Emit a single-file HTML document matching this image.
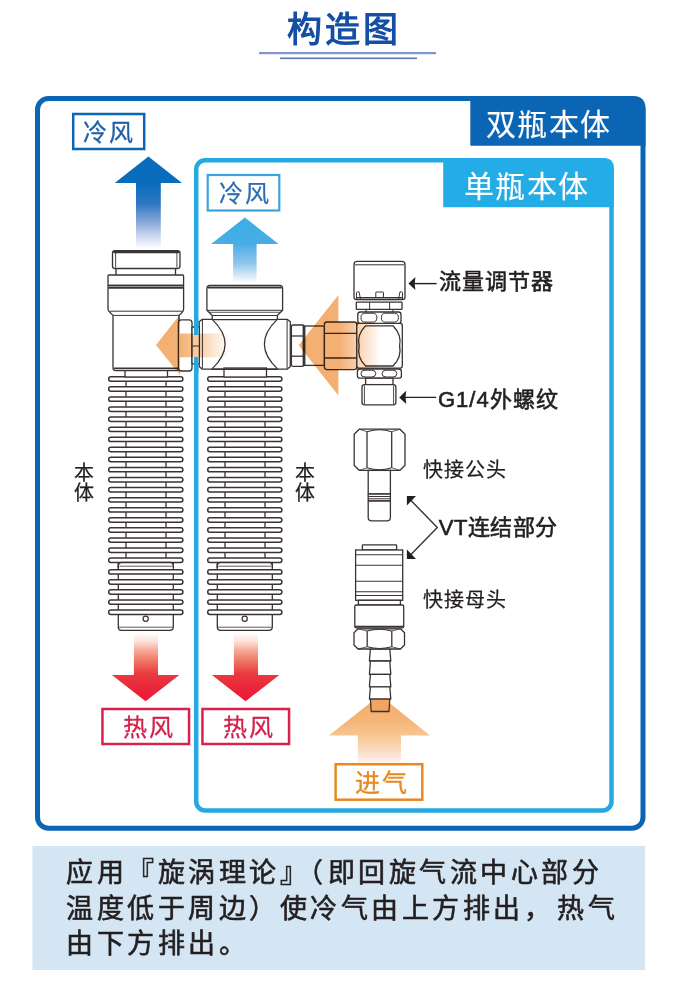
<!DOCTYPE html>
<html lang="zh-CN"><head><meta charset="utf-8"><title>构造图</title>
<style>html,body{margin:0;padding:0;background:#fff;} svg{display:block;font-family:"Liberation Sans",sans-serif;}</style>
</head><body>
<svg width="682" height="1000" viewBox="0 0 682 1000">
<defs>
<linearGradient id="gBlue" gradientUnits="userSpaceOnUse" x1="0" y1="157" x2="0" y2="249"><stop offset="0" stop-color="#0a6cbc"/><stop offset="0.283" stop-color="#0a6cbc"/><stop offset="0.5" stop-color="#2c76c2"/><stop offset="0.7" stop-color="#84a5d8"/><stop offset="0.87" stop-color="#d0dbf0"/><stop offset="1" stop-color="#ffffff"/></linearGradient>
<linearGradient id="gLBlue" gradientUnits="userSpaceOnUse" x1="0" y1="217.5" x2="0" y2="283"><stop offset="0" stop-color="#3aaee6"/><stop offset="0.4" stop-color="#48ade4"/><stop offset="0.7" stop-color="#8fc6ec"/><stop offset="1" stop-color="#ffffff"/></linearGradient>
<linearGradient id="gRed" gradientUnits="userSpaceOnUse" x1="0" y1="633" x2="0" y2="701"><stop offset="0" stop-color="#ffffff"/><stop offset="0.12" stop-color="#fde2da"/><stop offset="0.25" stop-color="#f8ac9c"/><stop offset="0.4" stop-color="#f07868"/><stop offset="0.6" stop-color="#e93a40"/><stop offset="1" stop-color="#ec1434"/></linearGradient>
<linearGradient id="gOrgL1" gradientUnits="userSpaceOnUse" x1="156" y1="0" x2="229.5" y2="0"><stop offset="0" stop-color="#f4b073"/><stop offset="0.33" stop-color="#f4b073"/><stop offset="1" stop-color="#f4b073" stop-opacity="0"/></linearGradient>
<linearGradient id="gOrgL2" gradientUnits="userSpaceOnUse" x1="298.7" y1="0" x2="381" y2="0"><stop offset="0" stop-color="#f4b073"/><stop offset="0.5" stop-color="#f4b073"/><stop offset="1" stop-color="#f4b073" stop-opacity="0"/></linearGradient>
<linearGradient id="gOrgUp" gradientUnits="userSpaceOnUse" x1="0" y1="695" x2="0" y2="763"><stop offset="0" stop-color="#f5aa62"/><stop offset="0.4" stop-color="#f5b67a"/><stop offset="0.62" stop-color="#f7c896"/><stop offset="0.85" stop-color="#fcdfcc"/><stop offset="1" stop-color="#fff6ee"/></linearGradient>
</defs>
<rect width="682" height="1000" fill="#fff"/>
<text x="287" y="41.7" font-size="35" font-weight="bold" letter-spacing="3" fill="#144ea5">构造图</text>
<rect x="259" y="52" width="177" height="2.2" fill="#7f96cf"/>
<rect x="280" y="57.5" width="137" height="1.6" fill="#5b7bb3"/>
<rect x="37.5" y="98.5" width="605.5" height="729.7" rx="11" fill="none" stroke="#0a66b4" stroke-width="5"/>
<path d="M470.3,96 H633 Q645.5,96 645.5,108.5 V145.7 H470.3 Z" fill="#0a66b4"/>
<text stroke="#fff" stroke-width="0.15" x="486" y="135" font-size="30" letter-spacing="1.3" fill="#fff">双瓶本体</text>
<rect x="196.2" y="160.3" width="415.3" height="650.3" rx="9" fill="none" stroke="#26a9e0" stroke-width="4.5"/>
<path d="M443.2,158 H604 Q613.8,158 613.8,168 V207.2 H443.2 Z" fill="#23ace6"/>
<text stroke="#fff" stroke-width="0.15" x="464" y="196.5" font-size="30" letter-spacing="1.3" fill="#fff">单瓶本体</text>
<rect x="73.2" y="114" width="71" height="35" fill="#fff" stroke="#0a66b4" stroke-width="2.5"/>
<text stroke="#1f5fa8" stroke-width="0.3" x="82.8" y="141" font-size="24" letter-spacing="2" fill="#1f5fa8">冷风</text>
<rect x="207.7" y="175" width="71.6" height="35.5" fill="#fff" stroke="#3aa4de" stroke-width="2.2"/>
<text stroke="#2b6cb4" stroke-width="0.25" x="218.5" y="202" font-size="24" letter-spacing="2" fill="#2b6cb4">冷风</text>
<path d="M148.4,156.6 L182,183 H160.8 V248 H136 V183 H114.7 Z" fill="url(#gBlue)"/>
<path d="M244.9,217.5 L278.6,243.9 H256.6 V283 H233.1 V243.9 H211.1 Z" fill="url(#gLBlue)"/>
<rect x="126" y="370" width="40" height="192" fill="#fff" stroke="#3a3333" stroke-width="1.3"/>
<path d="M118.3,562 H173.3 V627 Q173.3,630.4 170,630.4 H121.6 Q118.3,630.4 118.3,627 Z" fill="#fff" stroke="#3a3333" stroke-width="1.3"/>
<line x1="119" y1="627.2" x2="172.6" y2="627.2" stroke="#3a3333" stroke-width="0.8"/>
<circle cx="145.7" cy="618.7" r="2.6" fill="#fff" stroke="#3a3333" stroke-width="1.2"/>
<rect x="108.7" y="376.80" width="74.20" height="4.4" rx="2.2" fill="#fff" stroke="#3a3333" stroke-width="1.5"/>
<rect x="108.7" y="386.87" width="74.20" height="4.4" rx="2.2" fill="#fff" stroke="#3a3333" stroke-width="1.5"/>
<rect x="108.7" y="396.94" width="74.20" height="4.4" rx="2.2" fill="#fff" stroke="#3a3333" stroke-width="1.5"/>
<rect x="108.7" y="407.01" width="74.20" height="4.4" rx="2.2" fill="#fff" stroke="#3a3333" stroke-width="1.5"/>
<rect x="108.7" y="417.08" width="74.20" height="4.4" rx="2.2" fill="#fff" stroke="#3a3333" stroke-width="1.5"/>
<rect x="108.7" y="427.15" width="74.20" height="4.4" rx="2.2" fill="#fff" stroke="#3a3333" stroke-width="1.5"/>
<rect x="108.7" y="437.22" width="74.20" height="4.4" rx="2.2" fill="#fff" stroke="#3a3333" stroke-width="1.5"/>
<rect x="108.7" y="447.29" width="74.20" height="4.4" rx="2.2" fill="#fff" stroke="#3a3333" stroke-width="1.5"/>
<rect x="108.7" y="457.36" width="74.20" height="4.4" rx="2.2" fill="#fff" stroke="#3a3333" stroke-width="1.5"/>
<rect x="108.7" y="467.43" width="74.20" height="4.4" rx="2.2" fill="#fff" stroke="#3a3333" stroke-width="1.5"/>
<rect x="108.7" y="477.50" width="74.20" height="4.4" rx="2.2" fill="#fff" stroke="#3a3333" stroke-width="1.5"/>
<rect x="108.7" y="487.57" width="74.20" height="4.4" rx="2.2" fill="#fff" stroke="#3a3333" stroke-width="1.5"/>
<rect x="108.7" y="497.64" width="74.20" height="4.4" rx="2.2" fill="#fff" stroke="#3a3333" stroke-width="1.5"/>
<rect x="108.7" y="507.71" width="74.20" height="4.4" rx="2.2" fill="#fff" stroke="#3a3333" stroke-width="1.5"/>
<rect x="108.7" y="517.78" width="74.20" height="4.4" rx="2.2" fill="#fff" stroke="#3a3333" stroke-width="1.5"/>
<rect x="108.7" y="527.85" width="74.20" height="4.4" rx="2.2" fill="#fff" stroke="#3a3333" stroke-width="1.5"/>
<rect x="108.7" y="537.92" width="74.20" height="4.4" rx="2.2" fill="#fff" stroke="#3a3333" stroke-width="1.5"/>
<rect x="108.7" y="547.99" width="74.20" height="4.4" rx="2.2" fill="#fff" stroke="#3a3333" stroke-width="1.5"/>
<rect x="108.7" y="558.06" width="74.20" height="4.4" rx="2.2" fill="#fff" stroke="#3a3333" stroke-width="1.5"/>
<rect x="108.7" y="569.70" width="74.20" height="4.4" rx="2.2" fill="#fff" stroke="#3a3333" stroke-width="1.5"/>
<rect x="108.7" y="579.77" width="74.20" height="4.4" rx="2.2" fill="#fff" stroke="#3a3333" stroke-width="1.5"/>
<rect x="108.7" y="589.84" width="74.20" height="4.4" rx="2.2" fill="#fff" stroke="#3a3333" stroke-width="1.5"/>
<rect x="108.7" y="599.91" width="74.20" height="4.4" rx="2.2" fill="#fff" stroke="#3a3333" stroke-width="1.5"/>
<rect x="108.7" y="609.98" width="74.20" height="4.4" rx="2.2" fill="#fff" stroke="#3a3333" stroke-width="1.5"/>
<path d="M118.3,568.5 V565.6 Q118.3,562.6 121.3,562.6 H170.3 Q173.3,562.6 173.3,565.6 V568.5" fill="#fff" stroke="#3a3333" stroke-width="1.5"/>
<line x1="119.5" y1="566.2" x2="172.1" y2="566.2" stroke="#3a3333" stroke-width="0.8"/>
<rect x="225" y="370" width="40" height="192" fill="#fff" stroke="#3a3333" stroke-width="1.3"/>
<path d="M217.3,562 H272.3 V627 Q272.3,630.4 269,630.4 H220.6 Q217.3,630.4 217.3,627 Z" fill="#fff" stroke="#3a3333" stroke-width="1.3"/>
<line x1="218" y1="627.2" x2="271.6" y2="627.2" stroke="#3a3333" stroke-width="0.8"/>
<circle cx="244.7" cy="618.7" r="2.6" fill="#fff" stroke="#3a3333" stroke-width="1.2"/>
<rect x="207.7" y="376.80" width="74.20" height="4.4" rx="2.2" fill="#fff" stroke="#3a3333" stroke-width="1.5"/>
<rect x="207.7" y="386.87" width="74.20" height="4.4" rx="2.2" fill="#fff" stroke="#3a3333" stroke-width="1.5"/>
<rect x="207.7" y="396.94" width="74.20" height="4.4" rx="2.2" fill="#fff" stroke="#3a3333" stroke-width="1.5"/>
<rect x="207.7" y="407.01" width="74.20" height="4.4" rx="2.2" fill="#fff" stroke="#3a3333" stroke-width="1.5"/>
<rect x="207.7" y="417.08" width="74.20" height="4.4" rx="2.2" fill="#fff" stroke="#3a3333" stroke-width="1.5"/>
<rect x="207.7" y="427.15" width="74.20" height="4.4" rx="2.2" fill="#fff" stroke="#3a3333" stroke-width="1.5"/>
<rect x="207.7" y="437.22" width="74.20" height="4.4" rx="2.2" fill="#fff" stroke="#3a3333" stroke-width="1.5"/>
<rect x="207.7" y="447.29" width="74.20" height="4.4" rx="2.2" fill="#fff" stroke="#3a3333" stroke-width="1.5"/>
<rect x="207.7" y="457.36" width="74.20" height="4.4" rx="2.2" fill="#fff" stroke="#3a3333" stroke-width="1.5"/>
<rect x="207.7" y="467.43" width="74.20" height="4.4" rx="2.2" fill="#fff" stroke="#3a3333" stroke-width="1.5"/>
<rect x="207.7" y="477.50" width="74.20" height="4.4" rx="2.2" fill="#fff" stroke="#3a3333" stroke-width="1.5"/>
<rect x="207.7" y="487.57" width="74.20" height="4.4" rx="2.2" fill="#fff" stroke="#3a3333" stroke-width="1.5"/>
<rect x="207.7" y="497.64" width="74.20" height="4.4" rx="2.2" fill="#fff" stroke="#3a3333" stroke-width="1.5"/>
<rect x="207.7" y="507.71" width="74.20" height="4.4" rx="2.2" fill="#fff" stroke="#3a3333" stroke-width="1.5"/>
<rect x="207.7" y="517.78" width="74.20" height="4.4" rx="2.2" fill="#fff" stroke="#3a3333" stroke-width="1.5"/>
<rect x="207.7" y="527.85" width="74.20" height="4.4" rx="2.2" fill="#fff" stroke="#3a3333" stroke-width="1.5"/>
<rect x="207.7" y="537.92" width="74.20" height="4.4" rx="2.2" fill="#fff" stroke="#3a3333" stroke-width="1.5"/>
<rect x="207.7" y="547.99" width="74.20" height="4.4" rx="2.2" fill="#fff" stroke="#3a3333" stroke-width="1.5"/>
<rect x="207.7" y="558.06" width="74.20" height="4.4" rx="2.2" fill="#fff" stroke="#3a3333" stroke-width="1.5"/>
<rect x="207.7" y="569.70" width="74.20" height="4.4" rx="2.2" fill="#fff" stroke="#3a3333" stroke-width="1.5"/>
<rect x="207.7" y="579.77" width="74.20" height="4.4" rx="2.2" fill="#fff" stroke="#3a3333" stroke-width="1.5"/>
<rect x="207.7" y="589.84" width="74.20" height="4.4" rx="2.2" fill="#fff" stroke="#3a3333" stroke-width="1.5"/>
<rect x="207.7" y="599.91" width="74.20" height="4.4" rx="2.2" fill="#fff" stroke="#3a3333" stroke-width="1.5"/>
<rect x="207.7" y="609.98" width="74.20" height="4.4" rx="2.2" fill="#fff" stroke="#3a3333" stroke-width="1.5"/>
<path d="M217.3,568.5 V565.6 Q217.3,562.6 220.3,562.6 H269.3 Q272.3,562.6 272.3,565.6 V568.5" fill="#fff" stroke="#3a3333" stroke-width="1.5"/>
<line x1="218.5" y1="566.2" x2="271.1" y2="566.2" stroke="#3a3333" stroke-width="0.8"/>
<rect x="125.00" y="368.00" width="42.50" height="9.00" rx="0" fill="#fff" stroke="#3a3333" stroke-width="1.3" />
<rect x="224.00" y="368.00" width="42.50" height="9.00" rx="0" fill="#fff" stroke="#3a3333" stroke-width="1.3" />
<rect x="116.00" y="266.00" width="59.50" height="10.00" rx="0" fill="#fff" stroke="#3a3333" stroke-width="1.3" />
<rect x="112.50" y="250.60" width="67.50" height="17.90" rx="2.5" fill="#fff" stroke="#3a3333" stroke-width="1.3" />
<line x1="115.60" y1="252.00" x2="115.60" y2="267.50" stroke="#3a3333" stroke-width="0.9"/>
<line x1="176.90" y1="252.00" x2="176.90" y2="267.50" stroke="#3a3333" stroke-width="0.9"/>
<line x1="113.50" y1="252.20" x2="179.00" y2="252.20" stroke="#3a3333" stroke-width="2.2"/>
<rect x="108.00" y="275.00" width="75.60" height="10.30" rx="1" fill="#fff" stroke="#3a3333" stroke-width="1.3" />
<path d="M108,285.3 H183.6 V309 Q183.6,311 182,312.5 L179,315.4 V368 Q179,370.5 176.5,370.5 H115.5 Q113,370.5 113,368 V315.4 L110,312.5 Q108,311 108,309 Z" fill="#fff" stroke="#3a3333" stroke-width="1.3" stroke-linejoin="round"/>
<line x1="108.50" y1="287.60" x2="183.10" y2="287.60" stroke="#3a3333" stroke-width="2.2"/>
<line x1="110.00" y1="311.20" x2="182.00" y2="311.20" stroke="#3a3333" stroke-width="1.0"/>
<line x1="113.00" y1="315.40" x2="179.00" y2="315.40" stroke="#3a3333" stroke-width="1.0"/>
<line x1="114.00" y1="368.20" x2="178.00" y2="368.20" stroke="#3a3333" stroke-width="1.6"/>
<path d="M212.2,319.6 V315.5 L206.9,310.3 V288.5 Q206.9,285.4 210,285.4 H279.5 Q282.6,285.4 282.6,288.5 V310.3 L277.3,315.5 V319.6 Z" fill="#fff" stroke="#3a3333" stroke-width="1.3" stroke-linejoin="round"/>
<line x1="207.70" y1="287.40" x2="281.80" y2="287.40" stroke="#3a3333" stroke-width="2.0"/>
<line x1="207.20" y1="310.30" x2="282.30" y2="310.30" stroke="#3a3333" stroke-width="1.0"/>
<line x1="212.20" y1="315.50" x2="277.30" y2="315.50" stroke="#3a3333" stroke-width="1.0"/>
<line x1="209.00" y1="312.30" x2="280.50" y2="312.30" stroke="#3a3333" stroke-width="0.8"/>
<path d="M202,319.4 H212.2 Q238.2,344.2 211.8,369.1 H202 L199.2,366.6 V321.8 Z" fill="#fff" stroke="#3a3333" stroke-width="1.3" stroke-linejoin="round"/>
<path d="M287.5,319.4 H277.3 Q251.3,344.2 277.7,369.1 H287.5 L290.3,366.6 V321.8 Z" fill="#fff" stroke="#3a3333" stroke-width="1.3" stroke-linejoin="round"/>
<line x1="202.40" y1="320.00" x2="202.40" y2="368.50" stroke="#3a3333" stroke-width="1.0"/>
<line x1="287.10" y1="320.00" x2="287.10" y2="368.50" stroke="#3a3333" stroke-width="1.0"/>
<line x1="211.80" y1="369.10" x2="277.70" y2="369.10" stroke="#3a3333" stroke-width="1.6"/>
<rect x="178.40" y="319.80" width="13.60" height="51.20" rx="3" fill="#fff" stroke="#3a3333" stroke-width="1.3" />
<rect x="192.00" y="327.00" width="7.40" height="36.80" rx="0.5" fill="#fff" stroke="#3a3333" stroke-width="1.3" />
<line x1="192.00" y1="346.00" x2="199.40" y2="346.00" stroke="#3a3333" stroke-width="1.0"/>
<rect x="291.40" y="325.00" width="12.80" height="41.30" rx="1.5" fill="#fff" stroke="#3a3333" stroke-width="1.3" />
<line x1="291.40" y1="336.00" x2="304.20" y2="336.00" stroke="#3a3333" stroke-width="1.3"/>
<line x1="291.40" y1="356.20" x2="304.20" y2="356.20" stroke="#3a3333" stroke-width="1.3"/>
<line x1="303.60" y1="325.50" x2="303.60" y2="366.00" stroke="#3a3333" stroke-width="2.0"/>
<rect x="304.80" y="326.00" width="19.60" height="39.40" rx="0" fill="#fff" stroke="#3a3333" stroke-width="1.3" />
<rect x="324.40" y="322.00" width="32.40" height="47.60" rx="2.5" fill="#fff" stroke="#3a3333" stroke-width="1.3" />
<line x1="324.40" y1="333.30" x2="356.80" y2="333.30" stroke="#3a3333" stroke-width="1.3"/>
<line x1="324.40" y1="358.00" x2="356.80" y2="358.00" stroke="#3a3333" stroke-width="1.3"/>
<rect x="356.80" y="323.20" width="45.50" height="45.00" rx="2.5" fill="#fff" stroke="#3a3333" stroke-width="1.3" />
<path d="M365.6,325.8 H393 Q402,335 399.6,346 Q402,357 393,366 H365.6 Q356.5,357 359.2,346 Q356.5,335 365.6,325.8 Z" fill="none" stroke="#3a3333" stroke-width="1.3" stroke-linejoin="round"/>
<rect x="357.80" y="312.00" width="43.20" height="11.30" rx="2.5" fill="#fff" stroke="#3a3333" stroke-width="1.3" />
<rect x="361.00" y="313.20" width="15.80" height="8.90" rx="4.00" ry="4.15" fill="none" stroke="#3a3333" stroke-width="1.0"/>
<rect x="381.40" y="313.20" width="17.00" height="8.90" rx="4.00" ry="4.15" fill="none" stroke="#3a3333" stroke-width="1.0"/>
<rect x="356.30" y="302.20" width="45.70" height="7.20" rx="0.5" fill="#fff" stroke="#3a3333" stroke-width="1.3" />
<line x1="369.60" y1="302.20" x2="369.60" y2="309.40" stroke="#3a3333" stroke-width="1.0"/>
<line x1="389.60" y1="302.20" x2="389.60" y2="309.40" stroke="#3a3333" stroke-width="1.0"/>
<line x1="366.00" y1="309.40" x2="366.00" y2="312.00" stroke="#3a3333" stroke-width="1.0"/>
<line x1="393.00" y1="309.40" x2="393.00" y2="312.00" stroke="#3a3333" stroke-width="1.0"/>
<path d="M354,297 V264.5 Q354,261.4 357.1,261.4 H401.9 Q405,261.4 405,264.5 V297 Q405,299.6 402.4,299.6 H356.6 Q354,299.6 354,297 Z" fill="#fff" stroke="#3a3333" stroke-width="1.3" stroke-linejoin="round"/>
<line x1="355.00" y1="264.80" x2="404.00" y2="264.80" stroke="#3a3333" stroke-width="1.0"/>
<path d="M356.5,299.2 V292.5 Q357.5,291.4 359,291.8 L360.5,299" fill="none" stroke="#3a3333" stroke-width="1.0" stroke-linejoin="round"/>
<path d="M402.5,299.2 V292.5 Q401.5,291.4 400,291.8 L398.5,299" fill="none" stroke="#3a3333" stroke-width="1.0" stroke-linejoin="round"/>
<rect x="375.80" y="292.00" width="7.70" height="5.50" rx="0.5" fill="#fff" stroke="#3a3333" stroke-width="1.0" />
<line x1="356.00" y1="297.80" x2="403.00" y2="297.80" stroke="#3a3333" stroke-width="1.6"/>
<line x1="362.00" y1="299.60" x2="397.00" y2="299.60" stroke="#3a3333" stroke-width="1.0"/>
<rect x="357.40" y="369.00" width="44.00" height="9.20" rx="2.5" fill="#fff" stroke="#3a3333" stroke-width="1.3" />
<rect x="361.00" y="370.20" width="14.70" height="6.80" rx="4.00" ry="3.10" fill="none" stroke="#3a3333" stroke-width="1.0"/>
<rect x="382.10" y="370.20" width="14.70" height="6.80" rx="4.00" ry="3.10" fill="none" stroke="#3a3333" stroke-width="1.0"/>
<rect x="365.60" y="378.20" width="27.40" height="6.40" rx="0" fill="#fff" stroke="#3a3333" stroke-width="1.3" />
<rect x="362.00" y="384.60" width="33.90" height="20.20" rx="2.5" fill="#fff" stroke="#3a3333" stroke-width="1.3" />
<line x1="364.40" y1="385.50" x2="364.40" y2="404.00" stroke="#3a3333" stroke-width="0.9"/>
<line x1="393.60" y1="385.50" x2="393.60" y2="404.00" stroke="#3a3333" stroke-width="0.9"/>
<g style="mix-blend-mode:multiply">
<path d="M156,345 L180,314.5 V333.6 H229.5 V357.2 H180 V375 Z" fill="url(#gOrgL1)"/>
<path d="M298.7,345.2 L338.4,295 V322 H381 V369.6 H338.4 V395.6 Z" fill="url(#gOrgL2)"/>
<path d="M379.8,695.3 L430,735.4 H401 V762 H357.8 V735.4 H328.8 Z" fill="url(#gOrgUp)"/>
</g>
<rect x="194" y="319" width="4.5" height="16" fill="#26a9e0"/>
<rect x="194" y="357" width="4.5" height="15" fill="#26a9e0"/>
<path d="M145.6,701.2 L179.3,674.9 H158 V633.8 H133.9 V674.9 H111.9 Z" fill="url(#gRed)"/>
<rect x="102.45" y="709" width="86.6" height="35" fill="#fff" stroke="#d9214b" stroke-width="2.5"/>
<text stroke="#d41f4a" stroke-width="0.3" x="122.6" y="736" font-size="24" letter-spacing="2" fill="#d41f4a">热风</text>
<path d="M245.6,701.2 L279.3,674.9 H258 V633.8 H233.9 V674.9 H211.9 Z" fill="url(#gRed)"/>
<rect x="202.45" y="709" width="86.6" height="35" fill="#fff" stroke="#d9214b" stroke-width="2.5"/>
<text stroke="#d41f4a" stroke-width="0.3" x="222.6" y="736" font-size="24" letter-spacing="2" fill="#d41f4a">热风</text>
<rect x="335.6" y="764.2" width="86.7" height="35.5" fill="#fff" stroke="#e8891e" stroke-width="2.5"/>
<text stroke="#e8891e" stroke-width="0.3" x="355" y="792" font-size="25" letter-spacing="2.2" fill="#e8891e">进气</text>
<path d="M359.2,429.2 H400 L405,434.2 V465.3 L400,470.3 H359.2 L354.2,465.3 V434.2 Z" fill="#fff" stroke="#3a3333" stroke-width="1.3" stroke-linejoin="round"/>
<line x1="367.00" y1="431.70" x2="367.00" y2="467.80" stroke="#3a3333" stroke-width="1.3"/>
<line x1="391.70" y1="431.70" x2="391.70" y2="467.80" stroke="#3a3333" stroke-width="1.3"/>
<path d="M367,431.7 Q379.35,427.7 391.7,431.7" fill="none" stroke="#3a3333" stroke-width="1.1" stroke-linejoin="round"/>
<path d="M367,467.8 Q379.35,471.8 391.7,467.8" fill="none" stroke="#3a3333" stroke-width="1.1" stroke-linejoin="round"/>
<path d="M359.2,429.2 L367,431.7" fill="none" stroke="#3a3333" stroke-width="0.8" stroke-linejoin="round"/>
<path d="M400,429.2 L391.7,431.7" fill="none" stroke="#3a3333" stroke-width="0.8" stroke-linejoin="round"/>
<path d="M359.2,470.3 L367,467.8" fill="none" stroke="#3a3333" stroke-width="0.8" stroke-linejoin="round"/>
<path d="M400,470.3 L391.7,467.8" fill="none" stroke="#3a3333" stroke-width="0.8" stroke-linejoin="round"/>
<rect x="368.20" y="470.40" width="22.20" height="23.60" rx="0" fill="#fff" stroke="#3a3333" stroke-width="1.3" />
<rect x="368.20" y="494.00" width="22.20" height="7.00" rx="0.5" fill="#fff" stroke="#3a3333" stroke-width="1.3" />
<line x1="368.20" y1="496.50" x2="390.40" y2="496.50" stroke="#3a3333" stroke-width="1.0"/>
<line x1="368.20" y1="498.80" x2="390.40" y2="498.80" stroke="#3a3333" stroke-width="1.0"/>
<path d="M368.2,501 H390.4 V517.5 Q390.4,520.9 387,520.9 H371.6 Q368.2,520.9 368.2,517.5 Z" fill="#fff" stroke="#3a3333" stroke-width="1.3" stroke-linejoin="round"/>
<path d="M370.4,648.8 H389.8 L390.8,661 H369.4 Z" fill="#fff" stroke="#3a3333" stroke-width="1.3" stroke-linejoin="round"/>
<path d="M370.4,661 H389.8 L390.8,674.4 H369.4 Z" fill="#fff" stroke="#3a3333" stroke-width="1.3" stroke-linejoin="round"/>
<path d="M370.4,674.4 H389.8 L390.8,686.8 H369.4 Z" fill="#fff" stroke="#3a3333" stroke-width="1.3" stroke-linejoin="round"/>
<path d="M370.4,686.8 H389.8 L390.8,699.1 H369.4 Z" fill="#fff" stroke="#3a3333" stroke-width="1.3" stroke-linejoin="round"/>
<path d="M370.4,699.1 H389.8 L389,711.5 H371.2 Z" fill="#f2a463" stroke="#3a3333" stroke-width="1.3" stroke-linejoin="round"/>
<rect x="362.40" y="544.80" width="34.20" height="5.20" rx="0.5" fill="#fff" stroke="#3a3333" stroke-width="1.3" />
<rect x="355.60" y="550.00" width="47.10" height="50.30" rx="0" fill="#fff" stroke="#3a3333" stroke-width="1.3" />
<line x1="355.60" y1="554.70" x2="402.70" y2="554.70" stroke="#3a3333" stroke-width="1.1"/>
<line x1="355.60" y1="565.20" x2="402.70" y2="565.20" stroke="#3a3333" stroke-width="1.1"/>
<line x1="355.60" y1="581.30" x2="402.70" y2="581.30" stroke="#3a3333" stroke-width="1.1"/>
<line x1="355.60" y1="591.80" x2="402.70" y2="591.80" stroke="#3a3333" stroke-width="1.1"/>
<line x1="355.60" y1="595.50" x2="402.70" y2="595.50" stroke="#3a3333" stroke-width="1.1"/>
<rect x="358.40" y="600.30" width="42.00" height="4.70" rx="0" fill="#fff" stroke="#3a3333" stroke-width="1.3" />
<rect x="354.80" y="605.00" width="48.90" height="22.90" rx="1.5" fill="#fff" stroke="#3a3333" stroke-width="1.3" />
<line x1="355.00" y1="626.50" x2="403.50" y2="626.50" stroke="#3a3333" stroke-width="1.4"/>
<path d="M358,628.8 H400.5 L404.5,632.8 V645 L400.5,649 H358 L354,645 V632.8 Z" fill="#fff" stroke="#3a3333" stroke-width="1.3" stroke-linejoin="round"/>
<line x1="367.20" y1="631.00" x2="367.20" y2="646.80" stroke="#3a3333" stroke-width="1.3"/>
<line x1="391.80" y1="631.00" x2="391.80" y2="646.80" stroke="#3a3333" stroke-width="1.3"/>
<path d="M367.2,631.0 Q379.5,627.4799999999999 391.8,631.0" fill="none" stroke="#3a3333" stroke-width="1.1" stroke-linejoin="round"/>
<path d="M367.2,646.8 Q379.5,650.32 391.8,646.8" fill="none" stroke="#3a3333" stroke-width="1.1" stroke-linejoin="round"/>
<path d="M358,628.8 L367.2,631.0" fill="none" stroke="#3a3333" stroke-width="0.8" stroke-linejoin="round"/>
<path d="M400.5,628.8 L391.8,631.0" fill="none" stroke="#3a3333" stroke-width="0.8" stroke-linejoin="round"/>
<path d="M358,649 L367.2,646.8" fill="none" stroke="#3a3333" stroke-width="0.8" stroke-linejoin="round"/>
<path d="M400.5,649 L391.8,646.8" fill="none" stroke="#3a3333" stroke-width="0.8" stroke-linejoin="round"/>
<line x1="413.00" y1="283.60" x2="436.70" y2="283.60" stroke="#231f20" stroke-width="1.4"/>
<path d="M408.4,283.6 L415.4,277 Q414,283.6 415.4,290 Z" fill="#231f20"/>
<line x1="404.00" y1="397.40" x2="436.20" y2="397.40" stroke="#231f20" stroke-width="1.4"/>
<path d="M399.2,397.4 L406.2,390.8 Q404.8,397.4 406.2,404 Z" fill="#231f20"/>
<text stroke="#231f20" stroke-width="0.6" x="439" y="289" font-size="22" letter-spacing="1" fill="#231f20">流量调节器</text>
<text stroke="#231f20" stroke-width="0.6" x="438" y="407" font-size="22" letter-spacing="1" fill="#231f20">G1/4外螺纹</text>
<text stroke="#231f20" stroke-width="0.25" x="422.8" y="477.3" font-size="20" letter-spacing="1" fill="#231f20">快接公头</text>
<text stroke="#231f20" stroke-width="0.25" x="422.8" y="607.3" font-size="20" letter-spacing="1" fill="#231f20">快接母头</text>
<text stroke="#231f20" stroke-width="0.6" x="438.8" y="534.6" font-size="22" letter-spacing="0.5" fill="#231f20">VT连结部分</text>
<path d="M410,499.5 L437.3,527.5 L410,555.5" fill="none" stroke="#3a3333" stroke-width="1.4" stroke-linejoin="round"/>
<path d="M406.9,496 L416,496 L406.9,505.4 Z" fill="#231f20"/>
<path d="M406.9,559 L416,559 L406.9,549.6 Z" fill="#231f20"/>
<rect x="32.5" y="846" width="612.5" height="124" fill="#d4e5f3"/>
<text stroke="#231f20" stroke-width="0.6" x="66" y="881.5" font-size="27" letter-spacing="3.5" fill="#231f20">应用『旋涡理论』（即回旋气流中心部分</text>
<text stroke="#231f20" stroke-width="0.6" x="66" y="918" font-size="27" letter-spacing="3.5" fill="#231f20">温度低于周边）使冷气由上方排出，<tspan dx="3">热气</tspan></text>
<text stroke="#231f20" stroke-width="0.6" x="66" y="953" font-size="27" letter-spacing="3.5" fill="#231f20">由下方排出。</text>
<text stroke="#231f20" stroke-width="0.25" x="73.8" y="480" font-size="20" fill="#231f20">本</text>
<text stroke="#231f20" stroke-width="0.25" x="73.8" y="500" font-size="20" fill="#231f20">体</text>
<text stroke="#231f20" stroke-width="0.25" x="295.2" y="480" font-size="20" fill="#231f20">本</text>
<text stroke="#231f20" stroke-width="0.25" x="295.2" y="500" font-size="20" fill="#231f20">体</text>
</svg>
</body></html>
